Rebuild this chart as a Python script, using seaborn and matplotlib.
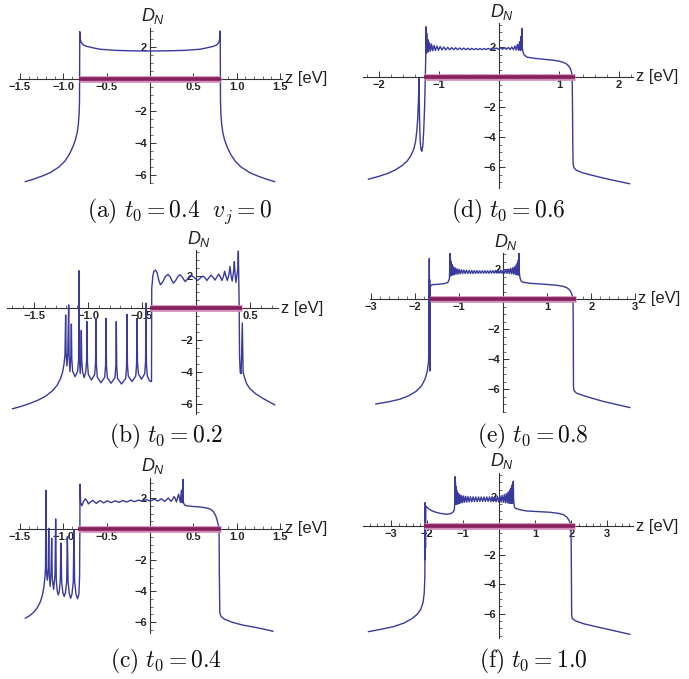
import matplotlib
matplotlib.use("Agg")
import matplotlib.pyplot as plt
import seaborn as sns
from matplotlib.ticker import MultipleLocator, FuncFormatter

sns.set_theme(style="white")
plt.rcParams["font.family"] = ["Liberation Sans", "DejaVu Sans"]
plt.rcParams["mathtext.fontset"] = "custom"
plt.rcParams["mathtext.it"] = "Liberation Sans:italic"
plt.rcParams["mathtext.rm"] = "Liberation Sans"

line_color = "#3a3a9c"
band_outer = "#d08cba"
band_inner = "#85205a"
axis_color = "#333333"

# ---- curves: (z, D_N) vertices ----
curve_a = [(-1.44, -6.42), (-1.35, -6.27), (-1.25, -6.08), (-1.15, -5.85), (-1.05, -5.5),
           (-0.98, -5.12), (-0.93, -4.7), (-0.89, -4.25), (-0.86, -3.8), (-0.84, -3.35),
           (-0.827, -2.85), (-0.818, -2.2), (-0.813, -1.4), (-0.81, 2.96), (-0.805, 2.55),
           (-0.795, 2.3), (-0.77, 2.13), (-0.73, 2.04), (-0.65, 1.94), (-0.577, 1.86),
           (-0.40, 1.79), (-0.20, 1.76), (0.0, 1.75), (0.20, 1.76), (0.40, 1.79),
           (0.577, 1.86), (0.65, 1.94), (0.73, 2.04), (0.77, 2.13), (0.795, 2.3),
           (0.805, 2.55), (0.81, 3.0), (0.813, -1.4), (0.818, -2.2), (0.827, -2.85),
           (0.84, -3.35), (0.86, -3.8), (0.89, -4.25), (0.93, -4.7), (0.98, -5.12),
           (1.05, -5.5), (1.15, -5.85), (1.25, -6.08), (1.35, -6.27), (1.44, -6.42)]

curve_b = [(-1.70, -6.30), (-1.62, -6.15), (-1.54, -5.97), (-1.46, -5.75), (-1.39, -5.5),
           (-1.33, -5.18), (-1.285, -4.82), (-1.255, -4.42), (-1.235, -4.0), (-1.222, -3.5),
           (-1.213, -2.9), (-1.207, -0.44), (-1.203, -2.8), (-1.195, -3.63), (-1.187, -2.8),
           (-1.179, 0.19), (-1.175, -3.0), (-1.167, -3.98), (-1.159, -3.0),
           (-1.154, -1.0), (-1.150, -3.2), (-1.142, -3.95), (-1.12, -4.29), (-1.096, -3.95),
           (-1.087, -3.2), (-1.083, 2.33), (-1.079, -3.2), (-1.072, -4.1), (-1.066, -3.2),
           (-1.062, -1.4), (-1.058, -3.3), (-1.050, -4.0), (-1.035, -4.35), (-1.021, -4.0),
           (-1.013, -3.3), (-1.009, -0.85), (-1.005, -3.4), (-0.997, -4.15), (-0.968, -4.5),
           (-0.938, -4.15), (-0.930, -3.4), (-0.926, -0.65), (-0.922, -3.55), (-0.914, -4.32),
           (-0.880, -4.67), (-0.845, -4.32), (-0.837, -3.55), (-0.833, -0.65), (-0.829, -3.6),
           (-0.821, -4.35), (-0.786, -4.7), (-0.750, -4.35), (-0.742, -3.6), (-0.738, -0.85),
           (-0.734, -3.65), (-0.726, -4.4), (-0.690, -4.75), (-0.651, -4.4), (-0.643, -3.65),
           (-0.639, -0.40), (-0.635, -3.5), (-0.627, -4.25), (-0.592, -4.6), (-0.558, -4.25),
           (-0.550, -3.5), (-0.546, -0.65), (-0.542, -3.35), (-0.534, -4.1), (-0.505, -4.45),
           (-0.475, -4.1), (-0.467, -3.35), (-0.463, 0.30), (-0.459, -3.5), (-0.451, -4.25),
           (-0.43, -4.55), (-0.412, -4.6), (-0.41, 1.2), (-0.40, 2.0), (-0.39, 2.3),
           (-0.375, 2.37), (-0.36, 2.2), (-0.345, 1.75), (-0.33, 1.45), (-0.31, 1.6),
           (-0.285, 1.95), (-0.26, 2.1), (-0.24, 1.95), (-0.21, 1.55), (-0.19, 1.7),
           (-0.165, 2.0), (-0.148, 2.08), (-0.13, 1.95), (-0.10, 1.65), (-0.08, 1.8),
           (-0.06, 2.0), (-0.045, 2.05), (-0.025, 1.95), (0.015, 1.72), (0.035, 1.85),
           (0.055, 1.96), (0.068, 1.98), (0.085, 1.88), (0.10, 1.72), (0.12, 1.9),
           (0.14, 2.05), (0.158, 1.92), (0.175, 1.74), (0.195, 1.95), (0.21, 2.12),
           (0.225, 1.95), (0.24, 1.72), (0.255, 2.0), (0.265, 2.3), (0.277, 2.0),
           (0.29, 1.72), (0.305, 2.1), (0.315, 2.6), (0.325, 2.0), (0.335, 1.68),
           (0.348, 2.3), (0.355, 2.9), (0.362, 2.1), (0.37, 1.6), (0.388, 2.5),
           (0.392, 3.56), (0.396, 1.6), (0.40, 0.0), (0.403, -3.0), (0.41, -4.05),
           (0.418, -4.1), (0.429, -0.94), (0.436, -4.0), (0.45, -4.35), (0.47, -4.75),
           (0.50, -5.05), (0.55, -5.35), (0.62, -5.65), (0.73, -6.06)]

curve_c = [(-1.44, -5.76), (-1.39, -5.6), (-1.34, -5.36), (-1.30, -5.08), (-1.265, -4.7),
           (-1.24, -4.25), (-1.223, -3.7), (-1.21, -3.0), (-1.205, -2.4), (-1.20, 2.5),
           (-1.196, -2.6), (-1.185, -3.3), (-1.174, -2.5),
           (-1.168, 0.05), (-1.162, -3.0), (-1.152, -3.7), (-1.142, -2.8),
           (-1.134, -0.6), (-1.127, -3.2), (-1.112, -3.9), (-1.096, -3.0),
           (-1.088, 0.65), (-1.081, -3.3), (-1.07, -4.0), (-1.058, -4.26), (-1.046, -4.0),
           (-1.035, -3.3), (-1.027, -0.9), (-1.019, -3.4), (-1.005, -4.1), (-0.99, -4.36),
           (-0.975, -4.1), (-0.961, -3.4), (-0.953, -0.5), (-0.945, -3.4), (-0.93, -4.2),
           (-0.915, -4.47), (-0.90, -4.2), (-0.885, -3.4), (-0.877, -0.05), (-0.869, -3.4),
           (-0.852, -4.25), (-0.835, -4.5), (-0.82, -4.2), (-0.812, -3.0),
           (-0.809, 0.0), (-0.807, 2.9), (-0.80, 1.7), (-0.785, 1.5), (-0.765, 1.8),
           (-0.745, 1.95), (-0.725, 1.8), (-0.71, 1.62), (-0.685, 1.75), (-0.66, 1.85),
           (-0.64, 1.75), (-0.62, 1.65), (-0.595, 1.76), (-0.575, 1.83), (-0.555, 1.76),
           (-0.535, 1.68), (-0.49, 1.82), (-0.45, 1.7), (-0.40, 1.82), (-0.36, 1.72),
           (-0.31, 1.84), (-0.27, 1.74), (-0.22, 1.86), (-0.18, 1.76), (-0.13, 1.87),
           (-0.09, 1.78), (-0.04, 1.9), (0.0, 1.8), (0.05, 1.92), (0.09, 1.8),
           (0.13, 1.95), (0.17, 1.78), (0.21, 2.0), (0.245, 1.78), (0.28, 2.1),
           (0.305, 1.75), (0.33, 2.25), (0.35, 1.72), (0.362, 2.5), (0.372, 1.7),
           (0.38, 3.2), (0.385, 1.7), (0.40, 1.55), (0.42, 1.5), (0.50, 1.45),
           (0.58, 1.42), (0.66, 1.35), (0.70, 1.27), (0.73, 1.12), (0.755, 0.9),
           (0.775, 0.55), (0.79, 0.2), (0.797, 0.0), (0.80, -3.0), (0.805, -5.4),
           (0.82, -5.65), (0.86, -5.82), (0.95, -6.02), (1.07, -6.2), (1.20, -6.33),
           (1.32, -6.47), (1.42, -6.6)]

curve_d = [(-2.18, -6.82), (-2.00, -6.62), (-1.85, -6.42), (-1.73, -6.2), (-1.62, -5.92),
           (-1.53, -5.6), (-1.47, -5.25), (-1.42, -4.8), (-1.39, -4.3), (-1.37, -3.6),
           (-1.355, -2.8), (-1.343, -1.6), (-1.333, -0.1), (-1.325, -2.6), (-1.315, -4.2),
           (-1.30, -4.85), (-1.285, -4.95), (-1.27, -4.6), (-1.255, -3.6), (-1.24, -2.0),
           (-1.228, 0.0), (-1.22, 1.5), (-1.217, 3.35), (-1.212, 1.6), (-1.205, 2.9),
           (-1.197, 1.65), (-1.187, 2.5), (-1.175, 1.68), (-1.16, 2.3), (-1.143, 1.72),
           (-1.125, 2.2), (-1.105, 1.75), (-1.083, 2.1), (-1.06, 1.77), (-1.035, 2.06),
           (-1.008, 1.78), (-0.98, 2.03), (-0.95, 1.8), (-0.92, 2.0), (-0.888, 1.8),
           (-0.855, 1.98), (-0.822, 1.81), (-0.79, 1.96), (-0.757, 1.82), (-0.724, 1.95),
           (-0.69, 1.82), (-0.656, 1.94), (-0.622, 1.82), (-0.588, 1.93), (-0.554, 1.82),
           (-0.52, 1.92), (-0.486, 1.82), (-0.452, 1.91), (-0.418, 1.82), (-0.384, 1.9),
           (-0.35, 1.82), (-0.316, 1.9), (-0.282, 1.82), (-0.248, 1.9), (-0.214, 1.83),
           (-0.18, 1.91), (-0.146, 1.84), (-0.112, 1.92), (-0.078, 1.85), (-0.044, 1.93),
           (-0.01, 1.85), (0.024, 1.94), (0.058, 1.85), (0.092, 1.95), (0.124, 1.84),
           (0.155, 1.97), (0.185, 1.83), (0.213, 2.0), (0.24, 1.82), (0.265, 2.07),
           (0.287, 1.8), (0.307, 2.17), (0.325, 1.78), (0.341, 2.35), (0.354, 1.78),
           (0.365, 2.7), (0.373, 1.8), (0.38, 3.24), (0.386, 2.0), (0.40, 1.65),
           (0.42, 1.47), (0.47, 1.32), (0.60, 1.24), (0.88, 1.13), (1.00, 1.06),
           (1.07, 0.98), (1.12, 0.88), (1.16, 0.74), (1.19, 0.55), (1.21, 0.3),
           (1.22, 0.0), (1.225, -2.0), (1.23, -4.5), (1.235, -5.8), (1.25, -6.05),
           (1.29, -6.22), (1.38, -6.37), (1.50, -6.5), (1.70, -6.7), (1.90, -6.88),
           (2.18, -7.12)]

curve_e = [(-2.90, -7.0), (-2.60, -6.85), (-2.35, -6.68), (-2.15, -6.45), (-1.98, -6.15),
           (-1.86, -5.8), (-1.78, -5.35), (-1.73, -4.85), (-1.70, -4.2), (-1.688, -3.0),
           (-1.682, 2.7), (-1.678, -3.8), (-1.674, 1.3), (-1.670, -4.8), (-1.666, 0.9),
           (-1.655, 0.85), (-1.62, 0.95), (-1.50, 0.98), (-1.35, 1.02), (-1.26, 1.1),
           (-1.225, 1.35), (-1.218, 2.0), (-1.215, 3.05), (-1.21, 1.55), (-1.203, 2.75),
           (-1.195, 1.55), (-1.186, 2.5), (-1.176, 1.58), (-1.164, 2.3), (-1.15, 1.6),
           (-1.134, 2.15), (-1.116, 1.62), (-1.096, 2.08), (-1.075, 1.64), (-1.053, 2.02),
           (-1.03, 1.66), (-1.006, 1.98), (-0.98, 1.68), (-0.953, 1.95), (-0.925, 1.69),
           (-0.897, 1.93), (-0.868, 1.7), (-0.838, 1.92), (-0.808, 1.7), (-0.778, 1.9),
           (-0.748, 1.7), (-0.718, 1.9), (-0.688, 1.7), (-0.658, 1.89), (-0.628, 1.71),
           (-0.598, 1.89), (-0.568, 1.71), (-0.538, 1.88), (-0.508, 1.72), (-0.478, 1.88),
           (-0.448, 1.72), (-0.418, 1.88), (-0.388, 1.72), (-0.358, 1.88), (-0.328, 1.72),
           (-0.298, 1.88), (-0.268, 1.72), (-0.238, 1.89), (-0.208, 1.72), (-0.178, 1.9),
           (-0.148, 1.72), (-0.118, 1.91), (-0.088, 1.72), (-0.058, 1.92), (-0.028, 1.72),
           (0.002, 1.94), (0.03, 1.72), (0.058, 1.96), (0.085, 1.71), (0.112, 1.99),
           (0.138, 1.7), (0.163, 2.03), (0.187, 1.68), (0.21, 2.08), (0.232, 1.66),
           (0.253, 2.15), (0.272, 1.64), (0.29, 2.25), (0.306, 1.62), (0.32, 2.4),
           (0.332, 1.6), (0.342, 2.6), (0.35, 1.6), (0.357, 3.05), (0.362, 1.8),
           (0.38, 1.4), (0.41, 1.18), (0.45, 1.12), (0.60, 1.05), (0.95, 0.98),
           (1.20, 0.92), (1.35, 0.85), (1.44, 0.76), (1.50, 0.63), (1.54, 0.45),
           (1.565, 0.25), (1.585, 0.0), (1.59, -2.0), (1.595, -5.9), (1.61, -6.12),
           (1.66, -6.27), (1.80, -6.42), (2.00, -6.6), (2.30, -6.85), (2.60, -7.05),
           (2.88, -7.24)]

curve_f = [(-3.64, -7.24), (-3.30, -7.08), (-2.95, -6.9), (-2.65, -6.65), (-2.43, -6.35),
           (-2.28, -6.05), (-2.18, -5.7), (-2.12, -5.25), (-2.085, -4.6), (-2.068, -3.5),
           (-2.06, 1.6), (-2.057, -2.3), (-2.053, 1.4), (-2.05, -1.5), (-2.047, 1.35),
           (-2.04, 1.35), (-1.95, 1.15), (-1.88, 1.05), (-1.76, 0.94), (-1.65, 0.87),
           (-1.46, 0.8), (-1.35, 0.85), (-1.29, 0.94), (-1.25, 1.1), (-1.235, 1.6),
           (-1.23, 3.38), (-1.225, 1.5), (-1.219, 3.0), (-1.212, 1.5), (-1.204, 2.7),
           (-1.195, 1.5), (-1.185, 2.45), (-1.173, 1.5), (-1.16, 2.3), (-1.145, 1.52),
           (-1.128, 2.2), (-1.11, 1.55), (-1.09, 2.12), (-1.068, 1.58), (-1.045, 2.08),
           (-1.02, 1.6), (-0.993, 2.05), (-0.965, 1.62), (-0.935, 2.03), (-0.903, 1.64),
           (-0.87, 2.02), (-0.836, 1.65), (-0.80, 2.0), (-0.764, 1.66), (-0.727, 2.0),
           (-0.69, 1.67), (-0.652, 1.99), (-0.614, 1.67), (-0.576, 1.99), (-0.538, 1.68),
           (-0.50, 1.99), (-0.462, 1.68), (-0.424, 1.99), (-0.386, 1.68), (-0.348, 1.99),
           (-0.31, 1.68), (-0.272, 2.0), (-0.235, 1.67), (-0.198, 2.01), (-0.161, 1.67),
           (-0.125, 2.02), (-0.09, 1.66), (-0.055, 2.04), (-0.02, 1.65), (0.014, 2.06),
           (0.047, 1.64), (0.079, 2.1), (0.11, 1.62), (0.14, 2.15), (0.168, 1.6),
           (0.195, 2.22), (0.22, 1.58), (0.244, 2.32), (0.266, 1.56), (0.286, 2.45),
           (0.305, 1.55), (0.322, 2.6), (0.337, 1.55), (0.35, 2.8), (0.362, 1.55),
           (0.372, 2.95), (0.38, 1.6), (0.39, 3.08), (0.396, 1.8), (0.42, 1.3),
           (0.46, 1.2), (0.60, 1.1), (0.76, 1.03), (1.41, 0.94), (1.65, 0.86),
           (1.78, 0.78), (1.87, 0.62), (1.93, 0.42), (1.97, 0.2), (1.99, 0.05),
           (2.0, -2.0), (2.01, -6.1), (2.03, -6.35), (2.12, -6.5), (2.35, -6.7),
           (2.75, -6.93), (3.20, -7.18), (3.63, -7.42)]

# occupied band on the z axis (start, end)
band_a = [-0.82, 0.82]
band_b = [-0.43, 0.43]
band_c = [-0.83, 0.82]
band_d = [-1.25, 1.27]
band_e = [-1.67, 1.65]
band_f = [-2.09, 2.10]

captions = [r"$\mathrm{(a)}\ t_0 = 0.4\ \ v_j = 0$", r"$\mathrm{(b)}\ t_0 = 0.2$",
            r"$\mathrm{(c)}\ t_0 = 0.4$", r"$\mathrm{(d)}\ t_0 = 0.6$",
            r"$\mathrm{(e)}\ t_0 = 0.8$", r"$\mathrm{(f)}\ t_0 = 1.0$"]

W, H = 689, 679

# layout: xlim, ylim, pixel of origin, pixels per unit, tick steps, caption centre
panels = [
    dict(curve=curve_a, band=band_a, xlim=(-1.52, 1.52), ylim=(-6.5, 3.2),
         org=(150, 79), scale=(86.7, 16.0), xt=(0.5, 0.1), dec=1, cap=(180, 211)),
    dict(curve=curve_b, band=band_b, xlim=(-1.75, 0.76), ylim=(-6.6, 3.6),
         org=(196, 308), scale=(108.0, 16.0), xt=(0.5, 0.1), dec=1, cap=(166, 436)),
    dict(curve=curve_c, band=band_c, xlim=(-1.52, 1.52), ylim=(-6.7, 3.3),
         org=(150, 529), scale=(86.7, 15.5), xt=(0.5, 0.1), dec=1, cap=(166, 661)),
    dict(curve=curve_d, band=band_d, xlim=(-2.27, 2.23), ylim=(-7.4, 3.6),
         org=(499, 77), scale=(60.0, 15.0), xt=(1, 0.2), dec=0, cap=(508, 211)),
    dict(curve=curve_e, band=band_e, xlim=(-3.03, 3.0), ylim=(-7.5, 3.07),
         org=(503.3, 299), scale=(44.0, 15.0), xt=(1, 0.2), dec=0, cap=(533, 436)),
    dict(curve=curve_f, band=band_f, xlim=(-3.78, 3.72), ylim=(-7.7, 3.65),
         org=(499.3, 526), scale=(36.0, 14.6), xt=(1, 0.2), dec=0, cap=(533, 661)),
]


def tick_fmt(dec):
    def f(v, pos):
        if abs(v) < 1e-9:
            return ""
        s = f"{abs(v):.{dec}f}"
        return ("\u2212" + s) if v < 0 else s
    return FuncFormatter(f)


fig = plt.figure(figsize=(W / 100, H / 100), dpi=100)

for p, cap in zip(panels, captions):
    x0, y0 = p["org"]
    sx, sy = p["scale"]
    left = x0 + p["xlim"][0] * sx
    right = x0 + p["xlim"][1] * sx
    top = y0 - p["ylim"][1] * sy
    bottom = y0 - p["ylim"][0] * sy
    ax = fig.add_axes([left / W, 1 - bottom / H, (right - left) / W, (bottom - top) / H])
    ax.set_facecolor("none")

    z = [pt[0] for pt in p["curve"]]
    d = [pt[1] for pt in p["curve"]]
    sns.lineplot(x=z, y=d, sort=False, estimator=None, color=line_color,
                 linewidth=1.0, ax=ax, zorder=3)
    ax.plot(p["band"], [0, 0], color=band_outer, lw=4.8, solid_capstyle="butt", zorder=4)
    ax.plot(p["band"], [0, 0], color=band_inner, lw=2.6, solid_capstyle="butt", zorder=5)

    ax.set_xlim(*p["xlim"])
    ax.set_ylim(*p["ylim"])
    for side in ["top", "right"]:
        ax.spines[side].set_visible(False)
    for side in ["left", "bottom"]:
        ax.spines[side].set_position(("data", 0))
        ax.spines[side].set_color(axis_color)
        ax.spines[side].set_linewidth(0.8)
        ax.spines[side].set_zorder(2)

    ax.xaxis.set_major_locator(MultipleLocator(p["xt"][0]))
    ax.xaxis.set_minor_locator(MultipleLocator(p["xt"][1]))
    ax.yaxis.set_major_locator(MultipleLocator(2))
    ax.yaxis.set_minor_locator(MultipleLocator(0.5))
    ax.xaxis.set_major_formatter(tick_fmt(p["dec"]))
    ax.yaxis.set_major_formatter(tick_fmt(0))
    ax.tick_params(which="major", direction="in", length=4, width=0.7, color=axis_color,
                   labelsize=8, pad=2, bottom=True, left=True)
    ax.tick_params(which="minor", direction="in", length=2, width=0.5, color=axis_color,
                   bottom=True, left=True)
    for lab in ax.get_xticklabels() + ax.get_yticklabels():
        lab.set_fontweight("bold")
    ax.set_xlabel("")
    ax.set_ylabel("")

    ax.annotate("z [eV]", xy=(p["xlim"][1], 0), xytext=(2, 0), textcoords="offset points",
                ha="left", va="center", fontsize=12, color="#222222", annotation_clip=False)
    ax.annotate(r"$D_N$", xy=(0, p["ylim"][1]), xytext=(2, 1), textcoords="offset points",
                ha="center", va="bottom", fontsize=13, color="#222222", annotation_clip=False)

    fig.text(p["cap"][0] / W, 1 - p["cap"][1] / H, cap, ha="center", va="center",
             fontsize=17, math_fontfamily="cm", color="#111111")

fig.savefig("out.png", dpi=100)
